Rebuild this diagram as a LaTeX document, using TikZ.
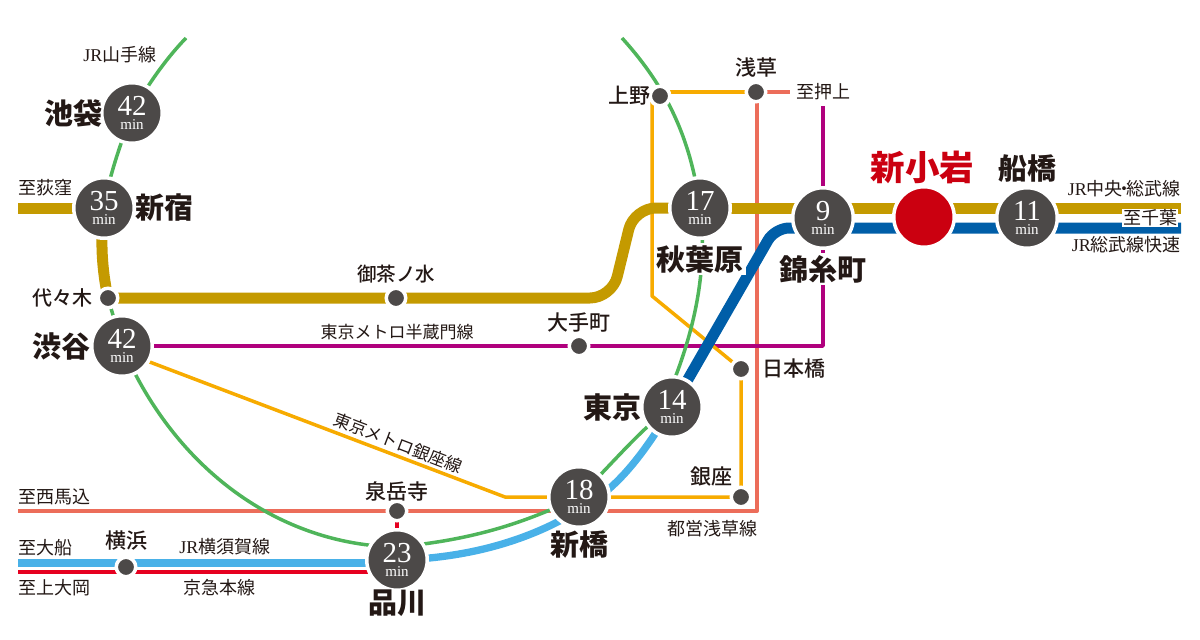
\documentclass[tikz,border=0pt]{standalone}
\usepackage{fontspec}
\usepackage{xcolor}
\usetikzlibrary{positioning,backgrounds}
\newfontfamily\jpfont{Noto Sans CJK JP}
\newfontfamily\jpmedium{Noto Sans CJK JP Medium}
\newfontfamily\latinfont{Liberation Serif}
\definecolor{stationgray}{HTML}{4C4948}
\definecolor{textdark}{HTML}{231815}
\definecolor{chuogold}{HTML}{C49A00}
\definecolor{rapidblue}{HTML}{005EA8}
\definecolor{skyblue}{HTML}{49B1E8}
\definecolor{loopgreen}{HTML}{4FB55A}
\definecolor{ginzaorange}{HTML}{F7AB00}
\definecolor{asakusasalmon}{HTML}{EC6D5A}
\definecolor{hanzomagenta}{HTML}{B0007D}
\definecolor{keikyured}{HTML}{E60020}
\definecolor{homered}{HTML}{CB0010}
\newcommand{\mins}[1]{#1\\{\fontsize{15}{13.5}\selectfont min}}

\begin{document}
\begin{tikzpicture}[x=1pt, y=-1pt]
        \tikzset{station/.style={circle, draw=white, line width=3.5pt, fill=stationgray, text=white, inner sep=0pt, minimum size=60.5pt, align=center, font=\latinfont\fontsize{29}{13.5}\selectfont}}
        \tikzset{stop/.style={circle, draw=white, line width=3.5pt, fill=stationgray, inner sep=0pt, minimum size=19.5pt}}
        \tikzset{bigname/.style={text=textdark, inner sep=0pt, font=\jpfont\bfseries\fontsize{29}{29}\selectfont}}
        \tikzset{midname/.style={text=textdark, inner sep=0pt, font=\jpmedium\fontsize{21}{21}\selectfont}}
        \tikzset{linename/.style={text=textdark, inner sep=0pt, font=\jpfont\fontsize{18}{18}\selectfont}}
        \tikzset{rail/.style={line width=#1, line join=round}}
        \useasboundingbox (0,0) rectangle (1200,640);

        % Stations with a travel time
        \node [station] (ikebukuro) at (132,113) {\mins{42}};
        \node [station] (shinjuku) at (104,208) {\mins{35}};
        \node [station] (shibuya) at (122,346) {\mins{42}};
        \node [station] (akihabara) at (700,208) {\mins{17}};
        \node [station] (kinshicho) at (823,218) {\mins{9}};
        \node [station, fill=homered] (shinkoiwa) at (924,217) {};
        \node [station] (funabashi) at (1027,218) {\mins{11}};
        \node [station] (tokyo) at (672,407) {\mins{14}};
        \node [station] (shinbashi) at (579,497) {\mins{18}};
        \node [station] (shinagawa) at (397,560) {\mins{23}};

        % Small stops
        \node [stop] (yoyogi) at (108,298) {};
        \node [stop] (ochanomizu) at (396,298) {};
        \node [stop] (otemachi) at (579,346) {};
        \node [stop] (ueno) at (660,96) {};
        \node [stop] (asakusa) at (756,92) {};
        \node [stop] (nihonbashi) at (741,369) {};
        \node [stop] (ginza) at (741,497) {};
        \node [stop] (sengakuji) at (397,511) {};
        \node [stop] (yokohama) at (126,567) {};

        % Free line ends and bends
        \coordinate (ogikubo) at (18,208);
        \coordinate (chibagold) at (1181,208);
        \coordinate (chibablue) at (1181,228);
        \coordinate (magome) at (18,511);
        \coordinate (oshiage) at (790,92);
        \coordinate (oshiagetop) at (823,106);
        \coordinate (ofuna) at (18,563);
        \coordinate (kamiooka) at (18,572);
        \coordinate (loopnorth) at (186,38);
        \coordinate (loopeast) at (622,38);
        \coordinate (ginzatop) at (652,296);
        \coordinate (ginzalow) at (505,497);
        \coordinate (asakusacorner) at (757,511);
        \coordinate (loopsouth) at (397,547);

        \begin{scope}[on background layer]
        % Toei Asakusa line
        \draw [rail=4pt, asakusasalmon] (magome) -- (sengakuji.center) -- (shinbashi.center |- sengakuji.center) -- (asakusacorner) -- (asakusacorner |- asakusa.center) -- (oshiage);

        % Hanzomon line
        \draw [rail=3.5pt, hanzomagenta] (shibuya.center) -- (otemachi.center) -- (kinshicho.center |- otemachi.center) -- (oshiagetop);

        % Ginza line
        \draw [rail=3.5pt, ginzaorange] (ginzatop |- ueno.center) -- (ginzatop) -- (nihonbashi.center) -- (ginza.center) -- (ginzalow) -- (shibuya.-30);
        \draw [rail=3.5pt, ginzaorange] (ueno.center |- asakusa.center) -- (asakusa.center);

        % Chuo-Sobu line
        \draw [rail=11pt, chuogold] (ogikubo) -- (shinjuku.center);
        \draw [rail=11pt, chuogold] (shinjuku.center) .. controls (100,240) and (102,270) .. (yoyogi.center);
        \draw [rail=11pt, chuogold, rounded corners=22pt] (yoyogi.center) -- (ochanomizu.center) -- (612,298) -- (634,208) -- (akihabara.center);
        \draw [rail=11pt, chuogold] (akihabara.center) -- (chibagold);

        % Yamanote line
        \draw [rail=3.5pt, loopgreen] (loopeast) .. controls (660,80) and (690,130) .. (akihabara.center);
        \draw [rail=3.5pt, loopgreen] (akihabara.center) .. controls (708,270) and (695,335) .. ([xshift=-9pt]tokyo.center);
        \draw [rail=3.5pt, loopgreen] (tokyo.center) .. controls (645,425) and (620,455) .. (shinbashi.center);
        \draw [rail=3.5pt, loopgreen] (shinbashi.center) .. controls (520,525) and (470,540) .. (loopsouth);
        \draw [rail=3.5pt, loopgreen] (loopsouth) .. controls (280,545) and (175,470) .. (shibuya.center);
        \draw [rail=3.5pt, loopgreen] (shibuya.center) -- (yoyogi.center);
        \draw [rail=3.5pt, loopgreen] (shinjuku.center) .. controls (108,180) and (120,145) .. (ikebukuro.center);
        \draw [rail=3.5pt, loopgreen] (ikebukuro.center) .. controls (142,95) and (160,65) .. (loopnorth);

        % Keikyu and Yokosuka lines
        \draw [rail=4pt, keikyured] (kamiooka) -- (shinagawa.center |- kamiooka);
        \draw [rail=4pt, keikyured] (shinagawa.center) -- (sengakuji.center);
        \draw [rail=7.3pt, skyblue] (ofuna) -- (shinagawa.center |- ofuna);
        \draw [rail=7.3pt, skyblue] (shinagawa.center) .. controls (470,558) and (530,540) .. (579,510) .. controls (615,490) and (640,460) .. (tokyo.center);

        % Sobu rapid line
        \draw [rail=11pt, rapidblue, rounded corners=14pt] (chibablue) -- (775,228) -- (tokyo.center);
        \end{scope}

        % Station names
        \node [bigname, left of=ikebukuro, node distance=59pt] (ikebukuroname) {池袋};
        \node [bigname, right of=shinjuku, node distance=60pt] (shinjukuname) {新宿};
        \node [bigname, left of=shibuya, node distance=61pt] (shibuyaname) {渋谷};
        \node [bigname, fill=white, inner sep=2pt, below of=akihabara, node distance=51pt] (akihabaraname) {秋葉原};
        \node [bigname, fill=white, inner sep=2pt, below of=kinshicho, node distance=51pt] (kinshichoname) {錦糸町};
        \node [bigname, left of=tokyo, node distance=60pt] (tokyoname) {東京};
        \node [bigname, below of=shinbashi, node distance=47pt] (shinbashiname) {新橋};
        \node [bigname, below of=shinagawa, node distance=43pt] (shinagawaname) {品川};
        \node [bigname, above of=funabashi, node distance=49pt] (funabashiname) {船橋};
        \node [bigname, text=homered, font=\jpfont\bfseries\fontsize{34.5}{34.5}\selectfont, above of=shinkoiwa, node distance=50pt, xshift=-1.5pt] (shinkoiwaname) {新小岩};
        \node [midname, font=\jpmedium\fontsize{20}{20}\selectfont, left of=yoyogi, node distance=46pt] (yoyoginame) {代々木};
        \node [midname, font=\jpmedium\fontsize{19.5}{20}\selectfont, above of=ochanomizu, node distance=24pt] (ochanomizuname) {御茶ノ水};
        \node [midname, above of=otemachi, node distance=23pt] (otemachiname) {大手町};
        \node [midname, left of=ueno, node distance=31pt] (uenoname) {上野};
        \node [midname, above of=asakusa, node distance=24pt] (asakusaname) {浅草};
        \node [midname, right of=nihonbashi, node distance=53pt] (nihonbashiname) {日本橋};
        \node [midname, above of=ginza, node distance=20pt, xshift=-30pt] (ginzaname) {銀座};
        \node [midname, above of=sengakuji, node distance=20pt] (sengakujiname) {泉岳寺};
        \node [midname, above of=yokohama, node distance=26pt] (yokohamaname) {横浜};

        % Line and direction labels
        \node [linename] (yamanotelabel) at (120,55) {{\latinfont JR}山手線};
        \node [linename] (ogikubolabel) at (45,188) {至荻窪};
        \node [linename] (oshiagelabel) at (823,92) {至押上};
        \node [linename, fill=white, inner sep=1pt] (chibalabel) at (1150,218) {至千葉};
        \node [linename, anchor=east] (chuolabel) at (1181,189) {{\latinfont JR}中央\kern-7pt・\kern-7pt 総武線};
        \node [linename, anchor=east] (rapidlabel) at (1181,245) {{\latinfont JR}総武線快速};
        \node [linename, font=\jpfont\fontsize{17}{17}\selectfont] (hanzomonlabel) at (397,332) {東京メトロ半蔵門線};
        \node [linename, font=\jpfont\fontsize{17}{17}\selectfont, rotate=-21] (ginzalabel) at (398,443) {東京メトロ銀座線};
        \node [linename] (asakusalabel) at (712,529) {都営浅草線};
        \node [linename] (magomelabel) at (54,497) {至西馬込};
        \node [linename] (ofunalabel) at (45,548) {至大船};
        \node [linename] (yokosukalabel) at (225,547) {{\latinfont JR}横須賀線};
        \node [linename] (kamiookalabel) at (54,588) {至上大岡};
        \node [linename] (keikyulabel) at (219,588) {京急本線};
\end{tikzpicture}
\end{document}
